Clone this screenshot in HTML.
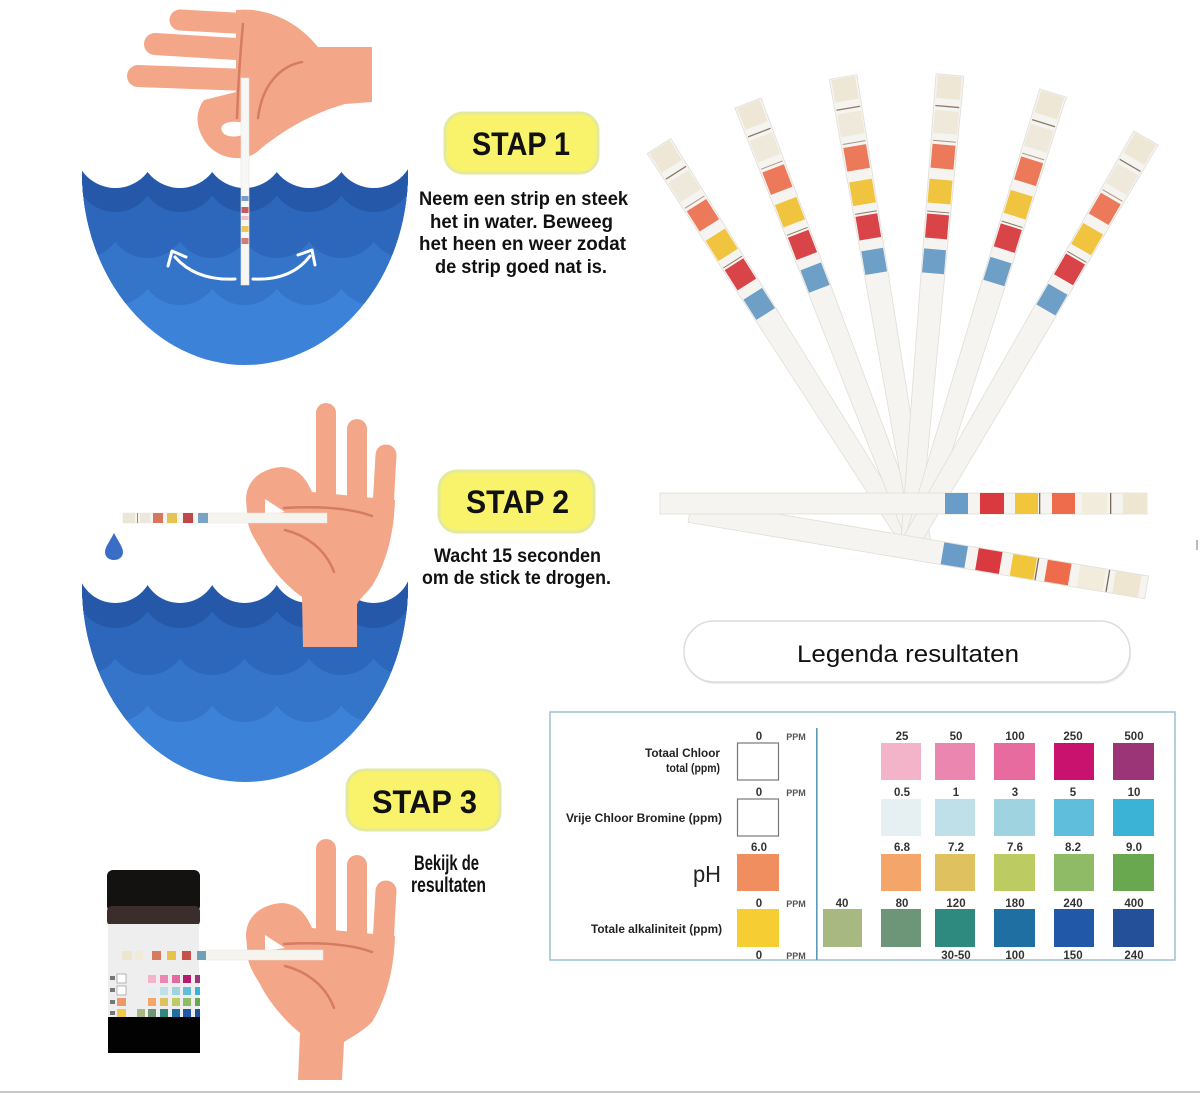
<!DOCTYPE html>
<html><head><meta charset="utf-8">
<style>
html,body{margin:0;padding:0;background:#fff;}
svg{display:block;}
text{font-family:"Liberation Sans",sans-serif;}
</style></head><body>
<svg width="1200" height="1095" viewBox="0 0 1200 1095" xmlns="http://www.w3.org/2000/svg">
<defs>
  <clipPath id="bw1"><ellipse cx="245" cy="172" rx="163" ry="193"/></clipPath>
  <clipPath id="bw2"><ellipse cx="245" cy="585" rx="163" ry="197"/></clipPath>
  <g id="fs">
    <polygon points="-14,0 14,0 9,476 -9,476" fill="#f5f4f0" stroke="#e0ded8" stroke-width="0.8"/>
    <rect x="-12" y="1" width="24" height="23" fill="#efe7d6"/>
    <rect x="-12" y="31" width="24" height="1.3" fill="#8a7a66"/>
    <rect x="-12" y="36" width="24" height="23" fill="#efe9dc"/>
    <rect x="-11.5" y="66" width="23" height="1" fill="#a8967f"/>
    <rect x="-11.5" y="70" width="23" height="24" fill="#ec7a5a"/>
    <rect x="-11.5" y="105" width="23" height="24" fill="#f1c43f"/>
    <rect x="-11" y="137" width="22" height="1" fill="#8a7a66"/>
    <rect x="-11" y="140" width="22" height="24" fill="#d94448"/>
    <rect x="-11" y="175" width="22" height="24" fill="#6e9fc6"/>
  </g>
</defs>

<!-- ========== BOWL 1 ========== -->
<g clip-path="url(#bw1)">
  <rect x="80" y="140" width="330" height="240" fill="#3c82d8"/>
  <g fill="#3474c9">
    <rect x="80" y="140" width="330" height="149"/>
    <circle cx="50.7" cy="265" r="40"/><circle cx="115.3" cy="265" r="40"/><circle cx="179.9" cy="265" r="40"/><circle cx="244.5" cy="265" r="40"/><circle cx="309.1" cy="265" r="40"/><circle cx="373.7" cy="265" r="40"/><circle cx="438.3" cy="265" r="40"/>
  </g>
  <g fill="#2c67bb">
    <rect x="80" y="140" width="330" height="102"/>
    <circle cx="83" cy="218" r="40"/><circle cx="147.6" cy="218" r="40"/><circle cx="212.2" cy="218" r="40"/><circle cx="276.8" cy="218" r="40"/><circle cx="341.4" cy="218" r="40"/><circle cx="406" cy="218" r="40"/>
  </g>
  <g fill="#2558a8">
    <rect x="80" y="140" width="330" height="56"/>
    <circle cx="50.7" cy="172" r="40"/><circle cx="115.3" cy="172" r="40"/><circle cx="179.9" cy="172" r="40"/><circle cx="244.5" cy="172" r="40"/><circle cx="309.1" cy="172" r="40"/><circle cx="373.7" cy="172" r="40"/><circle cx="438.3" cy="172" r="40"/>
  </g>
</g>
<g fill="#fff">
  <circle cx="115.3" cy="147.4" r="40.6"/><circle cx="179.9" cy="147.4" r="40.6"/><circle cx="244.5" cy="147.4" r="40.6"/><circle cx="309.1" cy="147.4" r="40.6"/><circle cx="373.7" cy="147.4" r="40.6"/>
</g>
<!-- arrows -->
<g fill="none" stroke="#fff" stroke-width="3" stroke-linecap="round" stroke-linejoin="round">
  <path d="M 235,279 Q 196,281 175,257"/>
  <path d="M 168,266 L 172,251 L 186,257"/>
  <path d="M 253,279 Q 291,281 310,256"/>
  <path d="M 298,255 L 312,250 L 315,265"/>
</g>

<!-- HAND 1 -->
<g stroke="#f4a688" stroke-linecap="round">
  <line x1="180" y1="20" x2="252" y2="24" stroke-width="21"/>
  <line x1="155" y1="44" x2="252" y2="50" stroke-width="22"/>
  <line x1="138" y1="76" x2="247" y2="80" stroke-width="22"/>
</g>
<path fill="#f4a688" d="M 236,10 C 268,7 298,22 318,47 L 372,47 L 372,102 L 345,104 C 310,114 280,132 257,152 C 244,162 220,160 207,144 C 196,130 194,113 204,100 L 236,92 Z"/>
<g fill="none" stroke="#d57c63" stroke-width="2.5" stroke-linecap="round">
  <path d="M 243,24 C 240,55 238,90 237,118"/>
  <path d="M 302,62 C 280,66 262,85 258,118"/>
</g>
<path d="M 222,126 C 226,121 236,121 246,123 L 246,133 C 240,137 230,138 224,134 C 221,131 221,128 222,126 Z" fill="#fff"/>
<rect x="241" y="78" width="8" height="207" fill="#f7f7f5" stroke="#e4e4e4" stroke-width="0.6"/>
<rect x="241.5" y="196" width="7" height="5" fill="#7b9cc6"/>
<rect x="241.5" y="207" width="7" height="6" fill="#c85a62"/>
<rect x="241.5" y="216" width="7" height="4" fill="#f0c0c0"/>
<rect x="241.5" y="226" width="7" height="6" fill="#e9c656"/>
<rect x="241.5" y="238" width="7" height="6" fill="#d27b7b"/>

<!-- STAP 1 -->
<rect x="445" y="113" width="153" height="60" rx="18" fill="#f8f36b" stroke="#e4ea9c" stroke-width="3"/>
<text x="472" y="155" font-size="32" font-weight="bold" fill="#111" textLength="98" lengthAdjust="spacingAndGlyphs">STAP 1</text>
<g font-size="19" font-weight="bold" fill="#111">
  <text x="419" y="205" textLength="209" lengthAdjust="spacingAndGlyphs">Neem een strip en steek</text>
  <text x="430" y="228" textLength="183" lengthAdjust="spacingAndGlyphs">het in water.  Beweeg</text>
  <text x="419" y="250" textLength="207" lengthAdjust="spacingAndGlyphs">het heen en weer zodat</text>
  <text x="435" y="273" textLength="172" lengthAdjust="spacingAndGlyphs">de strip goed nat is.</text>
</g>

<!-- ========== BOWL 2 ========== -->
<g clip-path="url(#bw2)">
  <rect x="80" y="550" width="330" height="240" fill="#3c82d8"/>
  <g fill="#3474c9">
    <rect x="80" y="550" width="330" height="156"/>
    <circle cx="50.7" cy="682" r="40"/><circle cx="115.3" cy="682" r="40"/><circle cx="179.9" cy="682" r="40"/><circle cx="244.5" cy="682" r="40"/><circle cx="309.1" cy="682" r="40"/><circle cx="373.7" cy="682" r="40"/><circle cx="438.3" cy="682" r="40"/>
  </g>
  <g fill="#2c67bb">
    <rect x="80" y="550" width="330" height="109"/>
    <circle cx="83" cy="635" r="40"/><circle cx="147.6" cy="635" r="40"/><circle cx="212.2" cy="635" r="40"/><circle cx="276.8" cy="635" r="40"/><circle cx="341.4" cy="635" r="40"/><circle cx="406" cy="635" r="40"/>
  </g>
  <g fill="#2558a8">
    <rect x="80" y="550" width="330" height="62"/>
    <circle cx="50.7" cy="588" r="40"/><circle cx="115.3" cy="588" r="40"/><circle cx="179.9" cy="588" r="40"/><circle cx="244.5" cy="588" r="40"/><circle cx="309.1" cy="588" r="40"/><circle cx="373.7" cy="588" r="40"/><circle cx="438.3" cy="588" r="40"/>
  </g>
</g>
<g fill="#fff">
  <circle cx="115.3" cy="565" r="38"/><circle cx="179.9" cy="565" r="38"/><circle cx="244.5" cy="565" r="38"/><circle cx="309.1" cy="565" r="38"/><circle cx="373.7" cy="565" r="38"/>
</g>
<!-- drop -->
<path d="M 114,533 C 118,541 123,547 123,552 C 123,557 119,560 114,560 C 109,560 105,557 105,552 C 105,547 110,541 114,533 Z" fill="#3a6dc6"/>

<!-- HAND 2 -->
<g>
  <g stroke="#f4a688" stroke-linecap="round">
    <line x1="326" y1="413" x2="326" y2="505" stroke-width="20"/>
    <line x1="357" y1="429" x2="357" y2="505" stroke-width="20"/>
    <line x1="386" y1="455" x2="383" y2="508" stroke-width="21"/>
  </g>
  <path fill="#f4a688" d="M 248,523 L 246,500 C 246,480 262,468 282,467 C 298,468 306,478 312,492 L 395,500 C 394,530 388,560 372,586 C 365,595 358,600 357,605 L 357,647 L 303,647 L 302,597 C 285,585 268,565 260,548 C 255,540 250,532 248,523 Z"/>
  <g fill="none" stroke="#d57c63" stroke-width="2.5" stroke-linecap="round">
    <path d="M 284,508 C 320,506 350,508 372,516"/>
    <path d="M 285,530 C 305,535 325,548 334,572"/>
  </g>
  <polygon points="265,499 285,512 265,515" fill="#fff"/>
</g>
<rect x="123" y="513" width="204" height="10" fill="#f6f4ef" stroke="#e8e6e0" stroke-width="0.5"/>
<rect x="123" y="513" width="12" height="10" fill="#ece6d8"/>
<rect x="137" y="513" width="1" height="10" fill="#9a8a76"/>
<rect x="140" y="513" width="10" height="10" fill="#eee8dc"/>
<rect x="153" y="513" width="10" height="10" fill="#d9765e"/>
<rect x="167" y="513" width="10" height="10" fill="#e6c454"/>
<rect x="183" y="513" width="10" height="10" fill="#c0484a"/>
<rect x="198" y="513" width="10" height="10" fill="#7aa2c4"/>

<!-- STAP 2 -->
<rect x="439" y="471" width="155" height="61" rx="18" fill="#f8f36b" stroke="#e4ea9c" stroke-width="3"/>
<text x="466" y="513" font-size="32" font-weight="bold" fill="#111" textLength="103" lengthAdjust="spacingAndGlyphs">STAP 2</text>
<g font-size="19" font-weight="bold" fill="#111">
  <text x="434" y="562" textLength="167" lengthAdjust="spacingAndGlyphs">Wacht 15 seconden</text>
  <text x="422" y="584" textLength="189" lengthAdjust="spacingAndGlyphs">om de stick te drogen.</text>
</g>

<!-- ========== STEP 3 ========== -->
<!-- jar -->
<rect x="107" y="870" width="93" height="42" rx="6" fill="#141111"/>
<rect x="107" y="906" width="93" height="20" rx="5" fill="#3b2d2b"/>
<rect x="108" y="924" width="91" height="94" fill="#eeeeee"/>
<rect x="108" y="1017" width="92" height="36" fill="#020202"/>
<!-- jar mini chart -->
<g>
  <rect x="117" y="974" width="9" height="9" fill="#fff" stroke="#888" stroke-width="0.6"/>
  <rect x="117" y="986" width="9" height="9" fill="#fff" stroke="#888" stroke-width="0.6"/>
  <rect x="117" y="998" width="9" height="8" fill="#e99a6a"/>
  <rect x="117" y="1009" width="9" height="8" fill="#f0c84a"/>
  <rect x="110" y="976" width="5" height="4" fill="#777"/>
  <rect x="110" y="988" width="5" height="4" fill="#777"/>
  <rect x="110" y="1000" width="5" height="4" fill="#777"/>
  <rect x="110" y="1011" width="5" height="4" fill="#777"/>
  <rect x="148" y="975" width="8" height="8" fill="#f3b3c8"/><rect x="160" y="975" width="8" height="8" fill="#ea86b0"/><rect x="172" y="975" width="8" height="8" fill="#e06b9f"/><rect x="183" y="975" width="8" height="8" fill="#b8186e"/><rect x="195" y="975" width="5" height="8" fill="#9c3478"/>
  <rect x="148" y="987" width="8" height="8" fill="#e2eef2"/><rect x="160" y="987" width="8" height="8" fill="#bfe0e8"/><rect x="172" y="987" width="8" height="8" fill="#9fd3e0"/><rect x="183" y="987" width="8" height="8" fill="#5fbedb"/><rect x="195" y="987" width="5" height="8" fill="#3bb3d6"/>
  <rect x="148" y="998" width="8" height="8" fill="#f4a56a"/><rect x="160" y="998" width="8" height="8" fill="#dfc25f"/><rect x="172" y="998" width="8" height="8" fill="#bccb62"/><rect x="183" y="998" width="8" height="8" fill="#8fba66"/><rect x="195" y="998" width="5" height="8" fill="#6aa84f"/>
  <rect x="137" y="1009" width="8" height="8" fill="#a7b980"/><rect x="148" y="1009" width="8" height="8" fill="#6d9679"/><rect x="160" y="1009" width="8" height="8" fill="#2e8a7f"/><rect x="172" y="1009" width="8" height="8" fill="#1f6fa2"/><rect x="183" y="1009" width="8" height="8" fill="#2159a8"/><rect x="195" y="1009" width="5" height="8" fill="#24509a"/>
</g>
<!-- HAND 3 -->
<g transform="translate(0,436)">
  <g stroke="#f4a688" stroke-linecap="round">
    <line x1="326" y1="413" x2="326" y2="505" stroke-width="20"/>
    <line x1="357" y1="429" x2="357" y2="505" stroke-width="20"/>
    <line x1="386" y1="455" x2="383" y2="508" stroke-width="21"/>
  </g>
  <path fill="#f4a688" d="M 248,523 L 246,500 C 246,480 262,468 282,467 C 298,468 306,478 312,492 L 395,500 C 394,530 388,560 372,586 C 362,596 350,602 344,606 L 342,644 L 298,644 L 300,597 C 285,585 268,565 260,548 C 255,540 250,532 248,523 Z"/>
  <g fill="none" stroke="#d57c63" stroke-width="2.5" stroke-linecap="round">
    <path d="M 284,508 C 320,506 350,508 372,516"/>
    <path d="M 285,530 C 305,535 325,548 334,572"/>
  </g>
  <polygon points="265,499 285,512 265,515" fill="#fff"/>
</g>
<rect x="205" y="950" width="118" height="10" fill="#f6f4ef" stroke="#e8e6e0" stroke-width="0.5"/>
<rect x="122" y="951" width="10" height="9" fill="#ede5cf"/>
<rect x="135" y="951" width="8" height="9" fill="#f0ead8"/>
<rect x="152" y="951" width="9" height="9" fill="#d97a60"/>
<rect x="167" y="951" width="9" height="9" fill="#e8c24a"/>
<rect x="182" y="951" width="9" height="9" fill="#c8504a"/>
<rect x="197" y="951" width="9" height="9" fill="#6fa0b8"/>

<!-- STAP 3 -->
<rect x="347" y="770" width="153" height="60" rx="18" fill="#f8f36b" stroke="#e4ea9c" stroke-width="3"/>
<text x="372" y="813" font-size="32" font-weight="bold" fill="#111" textLength="105" lengthAdjust="spacingAndGlyphs">STAP 3</text>
<g font-size="21" font-weight="bold" fill="#111">
  <text x="414" y="870" textLength="65" lengthAdjust="spacingAndGlyphs">Bekijk de</text>
  <text x="411" y="892" textLength="75" lengthAdjust="spacingAndGlyphs">resultaten</text>
</g>

<!-- bottom line -->
<rect x="0" y="1091" width="1200" height="2" fill="#c9c9c9"/>

<!-- ========== TEST STRIPS FAN ========== -->
<use href="#fs" transform="translate(659,146) rotate(-32.4)"/>
<use href="#fs" transform="translate(748,103) rotate(-21)"/>
<use href="#fs" transform="translate(843,77) rotate(-9.6)"/>
<use href="#fs" transform="translate(950,75) rotate(4.9)"/>
<use href="#fs" transform="translate(1053,93) rotate(17.3)"/>
<use href="#fs" transform="translate(1146,138) rotate(30.2)"/>

<!-- strip B -->
<g transform="translate(690,511) rotate(9.5)">
  <rect x="0" y="-11.5" width="463" height="23" fill="#f5f4f0" stroke="#e0ded8" stroke-width="0.8"/>
  <rect x="256" y="-11" width="24" height="22" fill="#6a9cc8"/>
  <rect x="291" y="-11" width="24" height="22" fill="#d9393f"/>
  <rect x="326" y="-11" width="24" height="22" fill="#f1c63a"/>
  <rect x="351" y="-11" width="1.3" height="22" fill="#7a6a56"/>
  <rect x="361" y="-11" width="24" height="22" fill="#ee6b4c"/>
  <rect x="394" y="-11" width="26" height="22" fill="#f2ecdc"/>
  <rect x="423" y="-11" width="1.3" height="22" fill="#7a6a56"/>
  <rect x="430" y="-11" width="26" height="22" fill="#efe6d2"/>
</g>
<!-- strip A -->
<rect x="660" y="493" width="487" height="21" fill="#f5f4f0" stroke="#e0ded8" stroke-width="0.8"/>
<rect x="945" y="493" width="23" height="21" fill="#6a9cc8"/>
<rect x="980" y="493" width="24" height="21" fill="#d9393f"/>
<rect x="1015" y="493" width="23" height="21" fill="#f1c63a"/>
<rect x="1039" y="493" width="1.3" height="21" fill="#7a6a56"/>
<rect x="1052" y="493" width="23" height="21" fill="#ee6b4c"/>
<rect x="1082" y="493" width="25" height="21" fill="#f2ecdc"/>
<rect x="1110" y="493" width="1.3" height="21" fill="#7a6a56"/>
<rect x="1123" y="493" width="24" height="21" fill="#efe6d2"/>

<!-- ========== LEGEND PILL ========== -->
<rect x="685" y="624" width="446" height="60" rx="30" fill="#eeeeee"/>
<rect x="684" y="621" width="446" height="61" rx="30" fill="#fff" stroke="#dcdcdc" stroke-width="1.5"/>
<text x="797" y="662" font-size="24" fill="#111" textLength="222" lengthAdjust="spacingAndGlyphs">Legenda resultaten</text>

<!-- ========== LEGEND TABLE ========== -->
<rect x="550" y="712" width="625" height="248" fill="#fff" stroke="#9cc0d0" stroke-width="1.5"/>
<rect x="816" y="728" width="1.6" height="232" fill="#5a9ab8"/>

<g font-size="12" font-weight="bold" fill="#222">
  <text x="645" y="757" textLength="75" lengthAdjust="spacingAndGlyphs">Totaal Chloor</text>
  <text x="666" y="772" textLength="54" lengthAdjust="spacingAndGlyphs">total (ppm)</text>
  <text x="566" y="822" textLength="156" lengthAdjust="spacingAndGlyphs">Vrije Chloor Bromine (ppm)</text>
  <text x="591" y="933" textLength="131" lengthAdjust="spacingAndGlyphs">Totale alkaliniteit (ppm)</text>
</g>
<text x="693" y="882" font-size="23" fill="#222" textLength="28" lengthAdjust="spacingAndGlyphs">pH</text>

<g font-size="11.5" font-weight="bold" fill="#333" text-anchor="middle">
  <text x="759" y="740">0</text>
  <text x="902" y="740">25</text><text x="956" y="740">50</text><text x="1015" y="740">100</text><text x="1073" y="740">250</text><text x="1134" y="740">500</text>
  <text x="759" y="796">0</text>
  <text x="902" y="796">0.5</text><text x="956" y="796">1</text><text x="1015" y="796">3</text><text x="1073" y="796">5</text><text x="1134" y="796">10</text>
  <text x="759" y="851">6.0</text>
  <text x="902" y="851">6.8</text><text x="956" y="851">7.2</text><text x="1015" y="851">7.6</text><text x="1073" y="851">8.2</text><text x="1134" y="851">9.0</text>
  <text x="759" y="907">0</text><text x="842" y="907">40</text>
  <text x="902" y="907">80</text><text x="956" y="907">120</text><text x="1015" y="907">180</text><text x="1073" y="907">240</text><text x="1134" y="907">400</text>
  <text x="759" y="959">0</text>
  <text x="956" y="959">30-50</text><text x="1015" y="959">100</text><text x="1073" y="959">150</text><text x="1134" y="959">240</text>
</g>
<g font-size="9" font-weight="bold" fill="#555" text-anchor="middle">
  <text x="796" y="740">PPM</text>
  <text x="796" y="796">PPM</text>
  <text x="796" y="907">PPM</text>
  <text x="796" y="959">PPM</text>
</g>

<!-- zero column -->
<rect x="737.5" y="743" width="41" height="37" fill="#fff" stroke="#777" stroke-width="1.2"/>
<rect x="737.5" y="799" width="41" height="37" fill="#fff" stroke="#777" stroke-width="1.2"/>
<rect x="737" y="854" width="42" height="37" fill="#f08e5f"/>
<rect x="737" y="909" width="42" height="38" fill="#f6cd33"/>

<!-- row 1 -->
<rect x="881" y="743" width="40" height="37" fill="#f3b3c8"/>
<rect x="935" y="743" width="40" height="37" fill="#ea86b0"/>
<rect x="994" y="743" width="41" height="37" fill="#e76b9f"/>
<rect x="1054" y="743" width="40" height="37" fill="#c8126e"/>
<rect x="1113" y="743" width="41" height="37" fill="#9c3478"/>
<!-- row 2 -->
<rect x="881" y="799" width="40" height="37" fill="#e6f0f2"/>
<rect x="935" y="799" width="40" height="37" fill="#bfe0e8"/>
<rect x="994" y="799" width="41" height="37" fill="#9fd3e0"/>
<rect x="1054" y="799" width="40" height="37" fill="#5fbedb"/>
<rect x="1113" y="799" width="41" height="37" fill="#3bb3d6"/>
<!-- row 3 -->
<rect x="881" y="854" width="40" height="37" fill="#f4a56a"/>
<rect x="935" y="854" width="40" height="37" fill="#dfc25f"/>
<rect x="994" y="854" width="41" height="37" fill="#bccb62"/>
<rect x="1054" y="854" width="40" height="37" fill="#8fba66"/>
<rect x="1113" y="854" width="41" height="37" fill="#6aa84f"/>
<!-- row 4 -->
<rect x="823" y="909" width="39" height="38" fill="#a7b980"/>
<rect x="881" y="909" width="40" height="38" fill="#6d9679"/>
<rect x="935" y="909" width="40" height="38" fill="#2e8a7f"/>
<rect x="994" y="909" width="41" height="38" fill="#1f6fa2"/>
<rect x="1054" y="909" width="40" height="38" fill="#2159a8"/>
<rect x="1113" y="909" width="41" height="38" fill="#24509a"/>

<!-- right edge mark -->
<rect x="1196" y="540" width="2" height="10" fill="#bbb"/>
</svg>
</body></html>
